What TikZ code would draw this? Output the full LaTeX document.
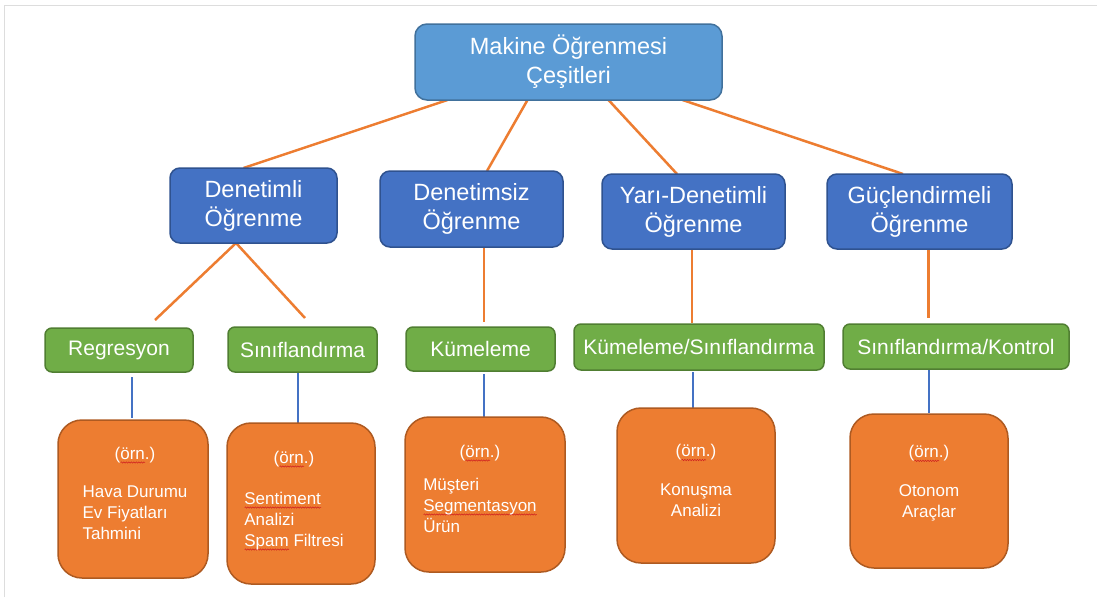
\documentclass[tikz,border=0pt]{standalone}
\usepackage{fontspec}
\setmainfont{Liberation Sans}
\usetikzlibrary{calc,backgrounds,decorations.pathmorphing}
\definecolor{topblue}{HTML}{5B9BD5}
\definecolor{topedge}{HTML}{41719C}
\definecolor{midblue}{HTML}{4472C4}
\definecolor{midedge}{HTML}{2F528F}
\definecolor{leafgreen}{HTML}{70AD47}
\definecolor{greenedge}{HTML}{507E32}
\definecolor{exorange}{HTML}{ED7D31}
\definecolor{orangeedge}{HTML}{AE5A21}
\definecolor{framegray}{HTML}{DDDDDD}
\definecolor{waveRed}{HTML}{D02020}
\newsavebox\wavebox
\newlength\wavelen
\newcommand\spellwave[1]{\sbox\wavebox{#1}\setlength\wavelen{\wd\wavebox}\leavevmode\rlap{\tikz[baseline=0pt]\draw[waveRed, line width=0.5pt, decorate, decoration={snake, amplitude=0.7pt, segment length=2.5pt}] (0pt,-3.5pt) -- (\wavelen,-3.5pt);}\usebox\wavebox}
\begin{document}
\begin{tikzpicture}[x=1pt,y=-1pt,
  every node/.style={inner sep=0pt, outer sep=0pt},
  rootbox/.style={draw=topedge, fill=topblue, line width=1.5pt, rounded corners=12pt, text=white, align=center, font=\fontsize{23.5}{29}\selectfont},
  catbox/.style={draw=midedge, fill=midblue, line width=1.5pt, rounded corners=10pt, text=white, align=center, font=\fontsize{23.5}{29}\selectfont},
  leafbox/.style={draw=greenedge, fill=leafgreen, line width=1.5pt, rounded corners=7pt, text=white, font=\fontsize{21}{25}\selectfont},
  exbox/.style={draw=orangeedge, fill=exorange, line width=1.5pt, rounded corners=24pt},
  extext/.style={text=white, align=center, font=\fontsize{17}{21}\selectfont},
  orangelink/.style={draw=exorange, line width=2.5pt},
  bluelink/.style={draw=midblue, line width=2pt}]
\useasboundingbox (0,0) rectangle (1097,597);

% root
\node[rootbox, minimum width=307pt, minimum height=76pt] (root) at (568.5,62) {Makine Öğrenmesi\\Çeşitleri};

% categories
\node[catbox, minimum width=167pt, minimum height=75pt] (d1) at (253.5,205.5) {Denetimli\\Öğrenme};
\node[catbox, minimum width=183pt, minimum height=76pt] (d2) at (471.5,209) {Denetimsiz\\Öğrenme};
\node[catbox, minimum width=183pt, minimum height=75pt] (d3) at (693.5,211.5) {Yarı-Denetimli\\Öğrenme};
\node[catbox, minimum width=185pt, minimum height=75pt] (d4) at (919.5,211.5) {Güçlendirmeli\\Öğrenme};

% methods
\node[leafbox, minimum width=148pt, minimum height=44pt] (g1) at (119,350) {Regresyon};
\node[leafbox, minimum width=149pt, minimum height=45pt] (g2) at (302.5,349.5) {Sınıflandırma};
\node[leafbox, minimum width=149pt, minimum height=44pt] (g3) at (480.5,349) {Kümeleme};
\node[leafbox, minimum width=250pt, minimum height=46pt] (g4) at (699,347) {Kümeleme/Sınıflandırma};
\node[leafbox, minimum width=226pt, minimum height=45pt] (g5) at (956,346.5) {Sınıflandırma/Kontrol};

% examples
\node[exbox, minimum width=150pt, minimum height=158pt] (o1) at (133,499) {};
\node[exbox, minimum width=148pt, minimum height=161pt] (o2) at (301,503.5) {};
\node[exbox, minimum width=160pt, minimum height=155pt] (o3) at (485,494.5) {};
\node[exbox, minimum width=158pt, minimum height=155pt] (o4) at (696,485.5) {};
\node[exbox, minimum width=158pt, minimum height=154pt] (o5) at (929,491) {};

\node[extext] (t1) at ($(o1.center)+(2,-3)$) {(\spellwave{örn}.)\\[17pt]\begin{tabular}[t]{@{}l@{}}Hava Durumu\\Ev Fiyatları\\Tahmini\end{tabular}};
\node[extext] (t2) at ($(o2.center)+(-7,-2)$) {(\spellwave{örn}.)\\[20pt]\begin{tabular}[t]{@{}l@{}}\spellwave{Sentiment}\\Analizi\\\spellwave{Spam} Filtresi\end{tabular}};
\node[extext] (t3) at ($(o3.center)+(-5,-3)$) {(\spellwave{örn}.)\\[12pt]\begin{tabular}[t]{@{}l@{}}Müşteri\\\spellwave{Segmentasyon}\\Ürün\end{tabular}};
\node[extext] (t4) at ($(o4.center)+(0,-5)$) {(\spellwave{örn}.)\\[18pt]Konuşma\\Analizi};
\node[extext] (t5) at ($(o5.center)+(0,-8)$) {(\spellwave{örn}.)\\[18pt]Otonom\\Araçlar};

\begin{scope}[on background layer]
\fill[white] (0,0) rectangle (1097,597);
\draw[framegray, line width=1pt] (4,597) -- (4,5) -- (1097,5);

\draw[orangelink] ($(root.south)+(-121,0)$) -- ($(d1.north)+(-10,0)$);
\draw[orangelink] ($(root.south)+(-41,0)$) -- ($(d2.north)+(15.5,0)$);
\draw[orangelink] ($(root.south)+(40,0)$) -- ($(d3.north)+(-16.5,0)$);
\draw[orangelink] ($(root.south)+(114,0)$) -- ($(d4.north)+(-16.5,0)$);

\draw[orangelink] ($(d1.south)+(-17.5,0)$) -- ($(g1.north)+(36,-8)$);
\draw[orangelink] ($(d1.south)+(-17.5,0)$) -- ($(g2.north)+(2.5,-9)$);
\draw[orangelink] ($(d2.south)+(12.5,0)$) -- ($(g3.north)+(3.5,-5)$);
\draw[orangelink] ($(d3.south)+(-1.5,0)$) -- ($(g4.north)+(-7,-1)$);
\draw[orangelink] ($(d4.south)+(9,0)$) -- ($(g5.north)+(-27.5,-6)$);

\draw[bluelink] ($(g1.south)+(13,5)$) -- ($(o1.north)+(-1,-2)$);
\draw[bluelink] ($(g2.south)+(-4.5,0)$) -- ($(o2.north)+(-3,1)$);
\draw[bluelink] ($(g3.south)+(3.5,3)$) -- ($(o3.north)+(-1,0)$);
\draw[bluelink] ($(g4.south)+(-6,2)$) -- ($(o4.north)+(-3,2)$);
\draw[bluelink] ($(g5.south)+(-27.5,-2)$) -- ($(o5.north)+(-0.5,-1)$);
\end{scope}
\end{tikzpicture}
\end{document}
